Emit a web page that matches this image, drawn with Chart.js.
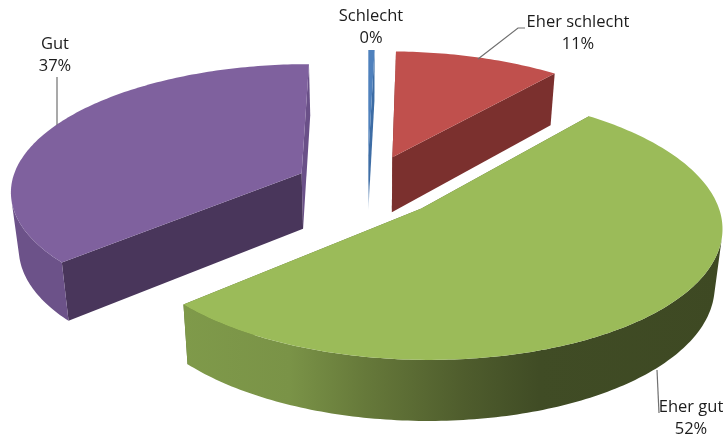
<!DOCTYPE html>
<html>
<head>
<meta charset="utf-8">
<style>html,body{margin:0;padding:0;background:#fff}canvas{display:block}</style>
<script src="https://cdn.jsdelivr.net/npm/chart.js@4"></script>
</head>
<body>
<canvas id="c" width="728" height="439"></canvas>
<script>
const categories = ["Schlecht", "Eher schlecht", "Eher gut", "Gut"];
const shownPercent = ["0%", "11%", "52%", "37%"];
const values = [0.4, 10.6, 52.4, 36.6];
const topColors = ["#4f81bd", "#c0504d", "#9bbb59", "#7f619e"];

// view model of the tilted, exploded pie
const view = {cx: 367.5, cy: 186, A: 291, B: 126, k: 0.127, depth: 56, depthK: 4.3, floor: 0.978};
const labelLayout = [
  {x: 371, y: 16, lead: null},
  {x: 578, y: 22, lead: [[478, 59], [518, 28], [525, 28]]},
  {x: 691, y: 407, lead: [[657, 370], [659, 413]]},
  {x: 55, y: 44, lead: [[57, 77], [57, 125]]}
];

function project(X, Y, lower) {
  const w = 1 - view.k * Y;
  let u = view.A * X / w, v = view.B * Y / w;
  if (lower) { u *= view.floor; v += view.depth + view.depthK * Y; }
  return [view.cx + u, view.cy + v];
}
function trace(ctx, pts) {
  ctx.beginPath();
  pts.forEach((p, i) => i ? ctx.lineTo(p[0], p[1]) : ctx.moveTo(p[0], p[1]));
  ctx.closePath();
}
function area(pts) {
  let s = 0;
  pts.forEach((p, i) => { const q = pts[(i + 1) % pts.length]; s += p[0] * q[1] - q[0] * p[1]; });
  return s;
}
function paints(ctx, i) {
  if (i === 0) {
    const g = ctx.createLinearGradient(0, 50, 0, 212);
    g.addColorStop(0, "#3a6aa2"); g.addColorStop(0.8, "#3f6ea6"); g.addColorStop(1, "#d5e1ee");
    return {top: topColors[0], wallStart: g, wallEnd: g, rim: "#3a6aa2"};
  }
  if (i === 1) return {top: topColors[1], wallStart: "#7b302e", wallEnd: "#7b302e", rim: "#7b302e"};
  if (i === 2) {
    const g = ctx.createLinearGradient(181, 0, 723, 0);
    [[0, "#7f9a4a"], [0.2, "#7a9347"], [0.34, "#66793a"], [0.52, "#4f5d2d"], [0.66, "#404c25"], [1, "#3e4923"]].forEach(s => g.addColorStop(s[0], s[1]));
    return {top: topColors[2], wallStart: "#5d7035", wallEnd: "#5d7035", rim: g};
  }
  return {top: topColors[3], wallStart: "#49365b", wallEnd: "#6a5088", rim: "#6c5289"};
}
const pie3d = {
  id: "pie3d",
  beforeDatasetsDraw(chart) {
    const ctx = chart.ctx, arcs = chart.getDatasetMeta(0).data;
    const order = [3, 0, 1, 2];
    order.forEach(i => {
      const a = arcs[i], o = a.options, e = o.offset / a.outerRadius;
      const p = paints(ctx, i);
      const mid = (a.startAngle + a.endAngle) / 2;
      const ox = Math.cos(mid) * e, oy = Math.sin(mid) * e;
      const steps = Math.max(4, Math.ceil((a.endAngle - a.startAngle) * 60));
      const ring = [];
      for (let s = 0; s <= steps; s++) {
        const t = a.startAngle + (a.endAngle - a.startAngle) * s / steps;
        ring.push([ox + Math.cos(t), oy + Math.sin(t)]);
      }
      const up = r => project(r[0], r[1], false), low = r => project(r[0], r[1], true);
      const apex = [ox, oy];
      // radial walls
      [[ring[steps], p.wallEnd], [ring[0], p.wallStart]].forEach(w => {
        const r = w[0];
        trace(ctx, [up(apex), up(r), low(r), low(apex)]);
        ctx.fillStyle = w[1]; ctx.fill();
      });
      // outer rim: the run of segments that face the viewer, as one shape
      let first = -1, last = -1;
      for (let s = 0; s < steps; s++) {
        const q = [up(ring[s]), up(ring[s + 1]), low(ring[s + 1]), low(ring[s])];
        if (area(q) < 0) { if (first < 0) first = s; last = s; }
      }
      if (first >= 0) {
        const run = ring.slice(first, last + 2);
        trace(ctx, run.map(up).concat(run.slice().reverse().map(low)));
        ctx.fillStyle = p.rim; ctx.fill();
      }
      // top face
      trace(ctx, [up(apex)].concat(ring.map(up)));
      ctx.fillStyle = p.top; ctx.fill();
    });
    // labels and leader lines
    ctx.save();
    ctx.strokeStyle = "#707070"; ctx.lineWidth = 1.2;
    labelLayout.forEach(l => {
      if (!l.lead) return;
      ctx.beginPath();
      l.lead.forEach((pt, j) => j ? ctx.lineTo(pt[0], pt[1]) : ctx.moveTo(pt[0], pt[1]));
      ctx.stroke();
    });
    ctx.fillStyle = "#1c1c1c";
    ctx.font = '16.5px "Open Sans"';
    ctx.textAlign = "center"; ctx.textBaseline = "middle";
    labelLayout.forEach((l, i) => {
      ctx.fillText(categories[i], l.x, l.y);
      ctx.fillText(shownPercent[i], l.x, l.y + 22);
    });
    ctx.restore();
    return false;
  }
};
new Chart(document.getElementById("c"), {
  type: "pie",
  data: {labels: categories, datasets: [{data: values, backgroundColor: topColors, borderWidth: 0, offset: 49}]},
  options: {
    responsive: false, animation: false,
    layout: {padding: 0},
    plugins: {legend: {display: false}, tooltip: {enabled: false}}
  },
  plugins: [pie3d]
});
</script>
</body>
</html>
